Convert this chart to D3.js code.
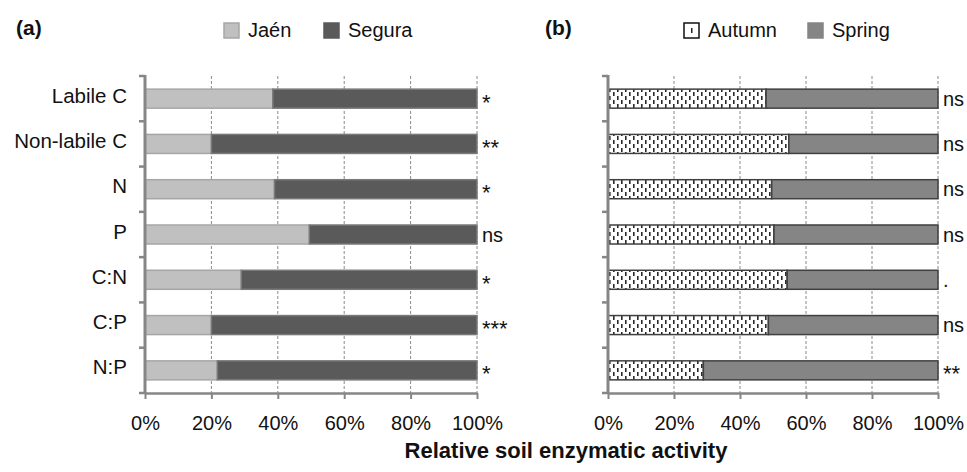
<!DOCTYPE html>
<html>
<head>
<meta charset="utf-8">
<script src="https://cdn.jsdelivr.net/npm/d3@7"></script>
<style>
  body { margin: 0; background: #fff; }
  svg { display: block; font-family: "Liberation Sans", Arial, sans-serif; }
</style>
</head>
<body>
<div id="chart"></div>
<script>
'use strict'

// data (percent of total activity)
const categories = ["Labile C", "Non-labile C", "N", "P", "C:N", "C:P", "N:P"];
const jaen   = [38.5, 20.0, 39.0, 49.5, 29.0, 20.0, 21.8];
const segura = [61.5, 80.0, 61.0, 50.5, 71.0, 80.0, 78.2];
const autumn = [47.9, 54.8, 49.6, 50.3, 54.3, 48.6, 28.9];
const spring = [52.1, 45.2, 50.4, 49.7, 45.7, 51.4, 71.1];
const sigA = ["*", "**", "*", "ns", "*", "***", "*"];
const sigB = ["ns", "ns", "ns", "ns", ".", "ns", "**"];
const xTicks = [0, 20, 40, 60, 80, 100];

const W = 967, H = 472;
const yTop = 76, yBottom = 393;

const svg = d3.select("#chart").append("svg")
    .attr("width", W)
    .attr("height", H);

// pattern for autumn (white with small vertical dashes)
const defs = svg.append("defs");
const pat = defs.append("pattern")
    .attr("id", "dash")
    .attr("patternUnits", "userSpaceOnUse")
    .attr("width", 8)
    .attr("height", 8);
pat.append("rect").attr("width", 8).attr("height", 8).attr("fill", "#fff");
pat.append("rect").attr("x", 1).attr("y", 0).attr("width", 1.6).attr("height", 4).attr("fill", "#2a2a2a");
pat.append("rect").attr("x", 5).attr("y", 4).attr("width", 1.6).attr("height", 4).attr("fill", "#2a2a2a");

function panel(opts) {
    const g = svg.append("g");

    const x = d3.scaleLinear().domain([0, 100]).range([opts.x0, opts.x1]);
    const y = d3.scaleBand()
        .domain(categories)
        .range([yTop, yBottom])
        .paddingInner(0.58)
        .paddingOuter(0.29);
    const step = y.step();

    // dashed vertical gridlines
    g.append("g").selectAll("line")
        .data(xTicks.slice(1))
        .enter()
        .append("line")
        .attr("x1", d => x(d)).attr("x2", d => x(d))
        .attr("y1", yTop).attr("y2", yBottom)
        .attr("stroke", "#8a8a8a")
        .attr("stroke-width", 1)
        .attr("stroke-dasharray", "3,2");

    // stacked bars
    const rows = categories.map((c, i) => ({ cat: c, s1: opts.s1[i], s2: opts.s2[i] }));
    const stack = d3.stack().keys(["s1", "s2"])(rows);
    const fills = [opts.fill1, opts.fill2];
    const strokes = [opts.stroke1, opts.stroke2];

    stack.forEach((layer, k) => {
        g.append("g").selectAll("rect")
            .data(layer)
            .enter()
            .append("rect")
            .attr("x", d => x(d[0]))
            .attr("y", d => y(d.data.cat))
            .attr("width", d => x(d[1]) - x(d[0]))
            .attr("height", y.bandwidth())
            .attr("fill", fills[k])
            .attr("stroke", strokes[k])
            .attr("stroke-width", 1.5);
    });

    // significance labels
    g.append("g").selectAll("text")
        .data(opts.sig)
        .enter()
        .append("text")
        .attr("x", x(100) + 5)
        .attr("y", (d, i) => y(categories[i]) + y.bandwidth() / 2 + (d === "ns" || d === "." ? 7 : 11))
        .attr("font-size", d => d === "ns" || d === "." ? "20px" : "22px")
        .attr("fill", "#111")
        .text(d => d);

    // left axis with ticks at category boundaries
    const bounds = d3.range(categories.length + 1).map(i => yTop + i * step);
    g.append("line")
        .attr("x1", x(0)).attr("x2", x(0))
        .attr("y1", yTop - 1).attr("y2", yBottom + 1)
        .attr("stroke", "#868686").attr("stroke-width", 3);
    g.append("g").selectAll("line")
        .data(bounds)
        .enter()
        .append("line")
        .attr("x1", x(0) - 6).attr("x2", x(0))
        .attr("y1", d => d).attr("y2", d => d)
        .attr("stroke", "#868686").attr("stroke-width", 2.5);

    // category labels
    if (opts.labels) {
        g.append("g").selectAll("text")
            .data(categories)
            .enter()
            .append("text")
            .attr("x", x(0) - 18)
            .attr("y", d => y(d) + y.bandwidth() / 2 + 4)
            .attr("text-anchor", "end")
            .attr("font-size", "20.5px")
            .attr("fill", "#111")
            .text(d => d);
    }

    // bottom axis
    const xAxis = g.append("g")
        .attr("transform", `translate(0, ${yBottom})`)
        .call(d3.axisBottom(x).tickValues(xTicks).tickFormat(d => d + "%").tickSize(6).tickSizeOuter(0));
    xAxis.select(".domain").attr("stroke", "#868686").attr("stroke-width", 2.5);
    xAxis.selectAll(".tick line").attr("stroke", "#868686").attr("stroke-width", 2);
    xAxis.selectAll(".tick text")
        .attr("font-size", "20px")
        .attr("font-family", "Liberation Sans, Arial, sans-serif")
        .attr("fill", "#111")
        .attr("dy", null)
        .attr("y", 37);

    // panel letter
    g.append("text")
        .attr("x", opts.letterX).attr("y", 35)
        .attr("font-size", "21px").attr("font-weight", "bold")
        .attr("fill", "#111")
        .text(opts.letter);

    // legend
    const leg = g.append("g");
    opts.legend.forEach(l => {
        leg.append("rect")
            .attr("x", l.x).attr("y", 23)
            .attr("width", 15).attr("height", 15)
            .attr("fill", l.fill)
            .attr("stroke", l.stroke)
            .attr("stroke-width", 1.5);
        if (l.mark) {
            leg.append("rect")
                .attr("x", l.x + 7).attr("y", 28)
                .attr("width", 1.5).attr("height", 5)
                .attr("fill", "#222");
        }
        leg.append("text")
            .attr("x", l.x + 24).attr("y", 37)
            .attr("font-size", "20px")
            .attr("fill", "#111")
            .text(l.name);
    });
}

panel({
    x0: 145, x1: 477,
    s1: jaen, s2: segura,
    fill1: "#c0c0c0", fill2: "#5a5a5a",
    stroke1: "#a6a6a6", stroke2: "#7a7a7a",
    sig: sigA, labels: true,
    letter: "(a)", letterX: 16,
    legend: [
        { name: "Jaén", x: 224, fill: "#c0c0c0", stroke: "#a6a6a6" },
        { name: "Segura", x: 324, fill: "#5a5a5a", stroke: "#5a5a5a" }
    ]
});

panel({
    x0: 608, x1: 938,
    s1: autumn, s2: spring,
    fill1: "url(#dash)", fill2: "#858585",
    stroke1: "#404040", stroke2: "#404040",
    sig: sigB, labels: false,
    letter: "(b)", letterX: 545,
    legend: [
        { name: "Autumn", x: 684, fill: "#fff", stroke: "#111", mark: true },
        { name: "Spring", x: 808, fill: "#858585", stroke: "#858585" }
    ]
});

// shared x-axis title
svg.append("text")
    .attr("x", 566).attr("y", 458)
    .attr("text-anchor", "middle")
    .attr("font-size", "22px")
    .attr("font-weight", "bold")
    .attr("fill", "#111")
    .text("Relative soil enzymatic activity");
</script>
</body>
</html>
